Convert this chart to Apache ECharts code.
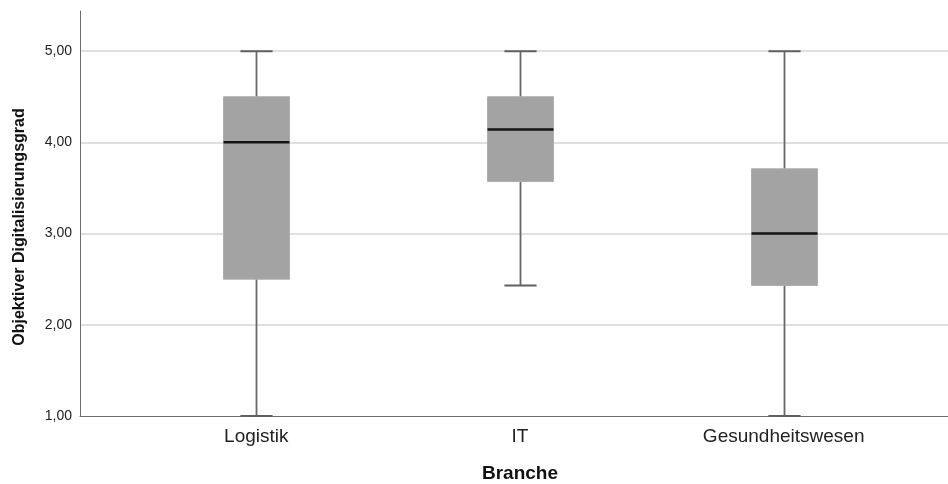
<!DOCTYPE html>
<html>
<head>
<meta charset="utf-8">
<script src="https://cdn.jsdelivr.net/npm/echarts@6/dist/echarts.min.js"></script>
<style>
  html, body { margin: 0; padding: 0; background: #ffffff; }
  #chart { width: 948px; height: 484px; }
</style>
</head>
<body>
<div id="chart"></div>
<script>
// Branchen and their five-number summaries (lower whisker, Q1, median, Q3, upper whisker)
const categories = ['Logistik', 'IT', 'Gesundheitswesen'];
const whiskerLow = [1.00, 2.43, 1.00];
const quartile1 = [2.50, 3.57, 2.43];
const medians = [4.00, 4.14, 3.00];
const quartile3 = [4.50, 4.50, 3.71];
const whiskerHigh = [5.00, 5.00, 5.00];

// value axis range and tick spacing
const yMin = 1;
const yMax = 5.44;
const yStep = 1;

const FONT = "'Liberation Sans', Arial, Helvetica, sans-serif";

const boxData = categories.map((c, i) => [
  i, whiskerLow[i], quartile1[i], medians[i], quartile3[i], whiskerHigh[i]
]);

function fmtComma(v) {
  return v.toFixed(2).replace('.', ',');
}

function renderBox(params, api) {
  const x = api.value(0);
  const band = api.size([1, 0])[0];
  const boxW = band * 0.25;
  const capW = band * 0.122;
  const pLow = api.coord([x, api.value(1)]);
  const pQ1 = api.coord([x, api.value(2)]);
  const pMed = api.coord([x, api.value(3)]);
  const pQ3 = api.coord([x, api.value(4)]);
  const pHigh = api.coord([x, api.value(5)]);
  const cx = Math.round(pMed[0]) + 0.5;
  const whisker = { stroke: '#686868', lineWidth: 1.8 };
  return {
    type: 'group',
    children: [
      { type: 'line', shape: { x1: cx, y1: pLow[1], x2: cx, y2: pQ1[1] }, style: whisker },
      { type: 'line', shape: { x1: cx, y1: pQ3[1], x2: cx, y2: pHigh[1] }, style: whisker },
      { type: 'line', shape: { x1: cx - capW / 2, y1: pLow[1], x2: cx + capW / 2, y2: pLow[1] }, style: { stroke: '#606060', lineWidth: 2 } },
      { type: 'line', shape: { x1: cx - capW / 2, y1: pHigh[1], x2: cx + capW / 2, y2: pHigh[1] }, style: { stroke: '#606060', lineWidth: 2 } },
      { type: 'rect', shape: { x: cx - boxW / 2, y: pQ3[1], width: boxW, height: pQ1[1] - pQ3[1] }, style: { fill: '#a3a3a3', stroke: '#adadad', lineWidth: 1 } },
      { type: 'line', shape: { x1: cx - boxW / 2, y1: pMed[1], x2: cx + boxW / 2, y2: pMed[1] }, style: { stroke: '#141414', lineWidth: 2.5 } }
    ]
  };
}

const chart = echarts.init(document.getElementById('chart'), null, { renderer: 'canvas' });

chart.setOption({
  animation: false,
  backgroundColor: '#ffffff',
  textStyle: { fontFamily: FONT },
  grid: [
    { left: 80, right: 0, top: 11, bottom: 68, containLabel: false, outerBoundsMode: 'none' },
    { left: 124.5, right: 32.5, top: 11, bottom: 68, containLabel: false, outerBoundsMode: 'none' }
  ],
  xAxis: [
    {
      gridIndex: 0, type: 'value', min: 0, max: 1,
      axisLine: { show: true, lineStyle: { color: '#6e6e6e', width: 1 } },
      axisTick: { show: false }, axisLabel: { show: false }, splitLine: { show: false }
    },
    {
      gridIndex: 1, type: 'category', data: categories,
      axisLine: { show: false }, axisTick: { show: false }, splitLine: { show: false },
      axisLabel: { fontSize: 19, color: '#222222', margin: 11, fontFamily: FONT },
      name: 'Branche', nameLocation: 'middle', nameGap: 48,
      nameTextStyle: { fontSize: 19, fontWeight: 'bold', color: '#111111', fontFamily: FONT }
    }
  ],
  yAxis: [
    {
      gridIndex: 0, type: 'value', min: yMin, max: yMax, interval: yStep,
      axisLine: { show: true, lineStyle: { color: '#6e6e6e', width: 1 } },
      axisTick: { show: false },
      splitLine: { show: true, showMinLine: false, showMaxLine: false, lineStyle: { color: '#d6d6d6', width: 1.5 } },
      axisLabel: {
        fontSize: 14, color: '#222222', margin: 8, fontFamily: FONT,
        showMaxLabel: false,
        formatter: v => (Math.abs(v - Math.round(v)) < 1e-9 ? fmtComma(v) : '')
      }
    },
    {
      gridIndex: 1, type: 'value', min: yMin, max: yMax, interval: yStep, show: false,
      splitLine: { show: false }
    }
  ],
  graphic: [
    {
      type: 'text', x: 20, y: 227, rotation: Math.PI / 2,
      style: {
        text: 'Objektiver Digitalisierungsgrad',
        font: 'bold 16px ' + FONT, fill: '#111111',
        align: 'center', verticalAlign: 'middle'
      }
    }
  ],
  series: [
    {
      type: 'custom',
      xAxisIndex: 1, yAxisIndex: 1,
      renderItem: renderBox,
      encode: { x: 0, y: [1, 2, 3, 4, 5] },
      data: boxData
    }
  ]
});
</script>
</body>
</html>
